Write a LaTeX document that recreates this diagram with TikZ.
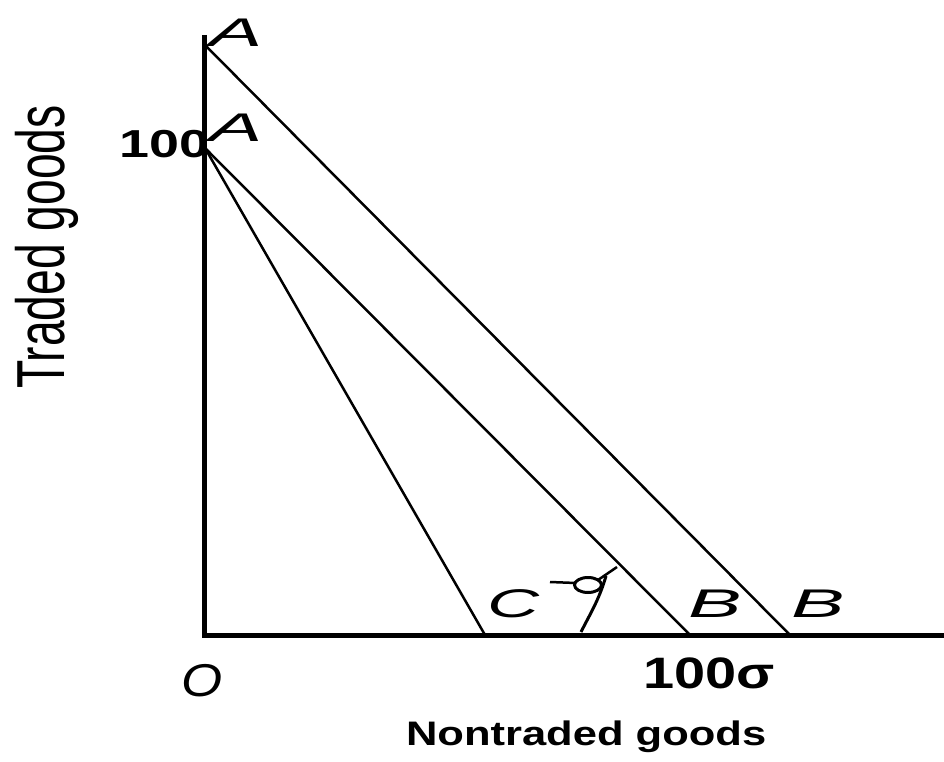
\documentclass[tikz,border=0pt]{standalone}
\usepackage{fontspec}
\setmainfont{Liberation Sans}
\begin{document}
\begin{tikzpicture}[x=1pt,y=-1pt,
  axis/.style={line width=5.5pt,line cap=butt,line join=miter},
  budget/.style={line width=2.5pt},
  lbl/.style={inner sep=0pt,outer sep=0pt},
  itl/.style={lbl,anchor=base west,font=\fontsize{40}{40}\selectfont\itshape}]
\useasboundingbox (0,0) rectangle (944,762);
\coordinate (ytop) at (204.5,35);
\coordinate (O) at (204.5,635.5);
\coordinate (xend) at (944,635.5);
\coordinate (Ap) at (205,45);
\coordinate (A) at (205,148);
\coordinate (Bp) at (790,635);
\coordinate (B) at (690,635);
\coordinate (C) at (485,635);
% axes
\draw[axis] (ytop) -- (O) -- (xend);
% budget lines
\draw[budget] (Ap) -- (Bp);
\draw[budget] (A) -- (B);
\draw[budget] (A) -- (C);
% angle mark
\draw[line width=2.5pt] (550,582) -- (576,583);
\draw[line width=3pt] (588,585) ellipse[x radius=13.5,y radius=7.5];
\draw[line width=2.5pt] (598,580) -- (617,567);
\draw[line width=3pt] (606,576) .. controls (599,600) and (590,614) .. (581,632);
% labels
\node[itl] (lAp) at (209,47) {\scalebox{2.0}[1]{A}};
\node[itl] (lA) at (209,142) {\scalebox{2.0}[1]{A}};
\node[itl] (lC) at (487,617) {\scalebox{1.8}[1]{C}};
\node[itl] (lB) at (688,617) {\scalebox{2.0}[1]{B}};
\node[itl] (lBp) at (791,617) {\scalebox{2.0}[1]{B}};
\node[lbl,anchor=base east,font=\fontsize{39}{39}\selectfont\bfseries] (l100) at (209,158) {\scalebox{1.38}[1]{100}};
\node[lbl,anchor=base west,font=\fontsize{46}{46}\selectfont\itshape] (lO) at (181,696) {\scalebox{1.15}[1]{O}};
\node[lbl,anchor=base west,font=\fontsize{44}{44}\selectfont\bfseries] (l100s) at (643,688) {\scalebox{1.27}[1]{100σ}};
\node[lbl,anchor=base west,font=\fontsize{34}{34}\selectfont\bfseries] (xlab) at (406,745) {\scalebox{1.28}[1]{Nontraded goods}};
\node[lbl,anchor=base,rotate=90,font=\fontsize{68}{68}\selectfont] (ylab) at (64,247) {\scalebox{0.68}[1]{Traded goods}};
\end{tikzpicture}
\end{document}
